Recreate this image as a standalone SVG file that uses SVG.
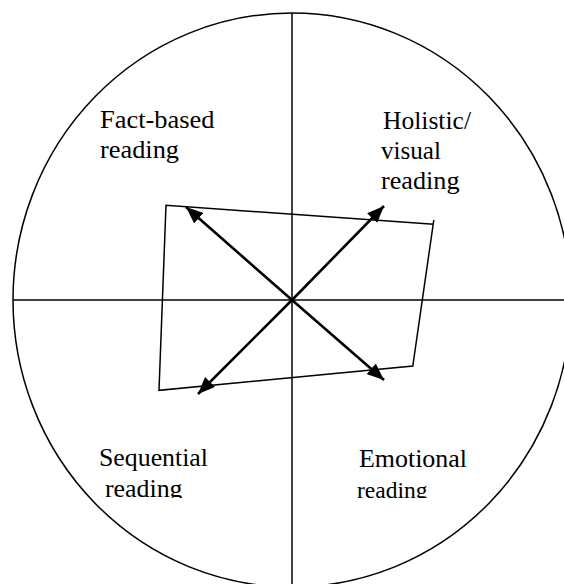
<svg xmlns="http://www.w3.org/2000/svg" width="564" height="584" viewBox="0 0 564 584">
<style>
.ln{fill:none;stroke:#000;stroke-width:1.5}
.ar{fill:none;stroke:#000;stroke-width:2.6;marker-end:url(#ah)}
text{font-family:'Liberation Serif','Times New Roman',serif;font-size:25px;fill:#000}
</style>
<defs>
<marker id="ah" markerUnits="userSpaceOnUse" markerWidth="18" markerHeight="14" refX="17" refY="7" orient="auto">
<path d="M0,0 L17,7 L0,14 z" fill="#000"/>
</marker>
<clipPath id="cb"><rect x="0" y="0" width="564" height="498"/></clipPath>
</defs>
<g id="frame">
<ellipse class="ln" cx="292" cy="300" rx="279" ry="287"/>
<line class="ln" x1="13" y1="300" x2="564" y2="300"/>
<line class="ln" x1="292" y1="13" x2="292" y2="584"/>
</g>
<g id="quad">
<path class="ln" d="M433.8,220 L412.8,366 L159,390.3 L166,205.3 L433.8,224.3"/>
</g>
<g id="connectors">
<line class="ar" x1="292" y1="300" x2="186" y2="207"/>
<line class="ar" x1="292" y1="300" x2="384" y2="206"/>
<line class="ar" x1="292" y1="300" x2="198" y2="394"/>
<line class="ar" x1="292" y1="300" x2="384" y2="380"/>
</g>
<g id="fact">
<text x="100" y="128" textLength="114.5" lengthAdjust="spacingAndGlyphs">Fact-based</text>
<text x="100" y="158" textLength="79" lengthAdjust="spacingAndGlyphs">reading</text>
</g>
<g id="holistic">
<text x="383" y="129" textLength="88" lengthAdjust="spacingAndGlyphs">Holistic/</text>
<text x="381" y="159" textLength="60" lengthAdjust="spacingAndGlyphs">visual</text>
<text x="381" y="189" textLength="78.5" lengthAdjust="spacingAndGlyphs">reading</text>
</g>
<g id="sequential" clip-path="url(#cb)">
<text x="99" y="466" textLength="109" lengthAdjust="spacingAndGlyphs">Sequential</text>
<text x="105" y="497" textLength="77.5" lengthAdjust="spacingAndGlyphs">reading</text>
</g>
<g id="emotional" clip-path="url(#cb)">
<text x="359" y="467" textLength="108" lengthAdjust="spacingAndGlyphs">Emotional</text>
<text x="357" y="497.5" style="font-size:23px" textLength="70.5" lengthAdjust="spacingAndGlyphs">reading</text>
</g>
</svg>
